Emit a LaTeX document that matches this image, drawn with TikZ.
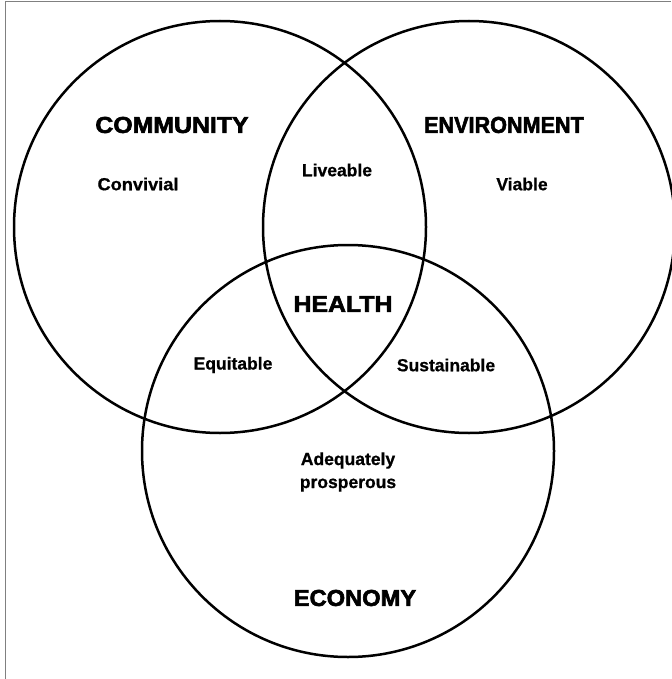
\documentclass[tikz,border=0pt]{standalone}
\usepackage{fontspec}
\setmainfont{Liberation Sans}
\newfontfamily\heavyfont[FakeBold=2.5]{Liberation Sans Bold}
\newfontfamily\labelfont[FakeBold=0.8]{Liberation Sans Bold}
\begin{document}
\begin{tikzpicture}[x=1pt,y=-1pt,
  ring/.style={draw=black, line width=2.5pt, circle, minimum size=412pt, inner sep=0pt},
  title/.style={font=\fontsize{23}{25}\selectfont\heavyfont, inner sep=0pt},
  label/.style={font=\fontsize{17.5}{23}\selectfont\labelfont, inner sep=0pt, align=center}]
\useasboundingbox (0,0) rectangle (671,679);
\fill[white] (0,0) rectangle (671,679);
% thin frame on the top and left edges
\coordinate (frameBL) at (5,679);
\coordinate (frameTL) at (5,2);
\coordinate (frameTR) at (671,2);
\draw[gray, line width=1pt] (frameBL) -- (frameTL) -- (frameTR);
% the three overlapping circles
\node[ring] (community) at (220,227) {};
\node[ring] (environment) at (469,227) {};
\node[ring] (economy) at (348,451) {};
% circle titles
\node[title] (tcommunity) at (172,125) {\scalebox{1.08}[1]{COMMUNITY}};
\node[title] (tenvironment) at (504,125) {\scalebox{0.94}[1]{ENVIRONMENT}};
\node[title] (teconomy) at (355,598) {\scalebox{1.03}[1]{ECONOMY}};
\node[title] (health) at (343,304) {\scalebox{1.08}[1]{HEALTH}};
% region labels
\node[label] (convivial) at (138,184) {\scalebox{1.04}[1]{Convivial}};
\node[label] (liveable) at (337,170) {Liveable};
\node[label] (viable) at (522,184) {Viable};
\node[label] (equitable) at (233,365) {Equitable};
\node[label] (sustainable) at (446,365) {Sustainable};
\node[label] (prosperous) at (348,472) {Adequately\\prosperous};
\end{tikzpicture}
\end{document}
